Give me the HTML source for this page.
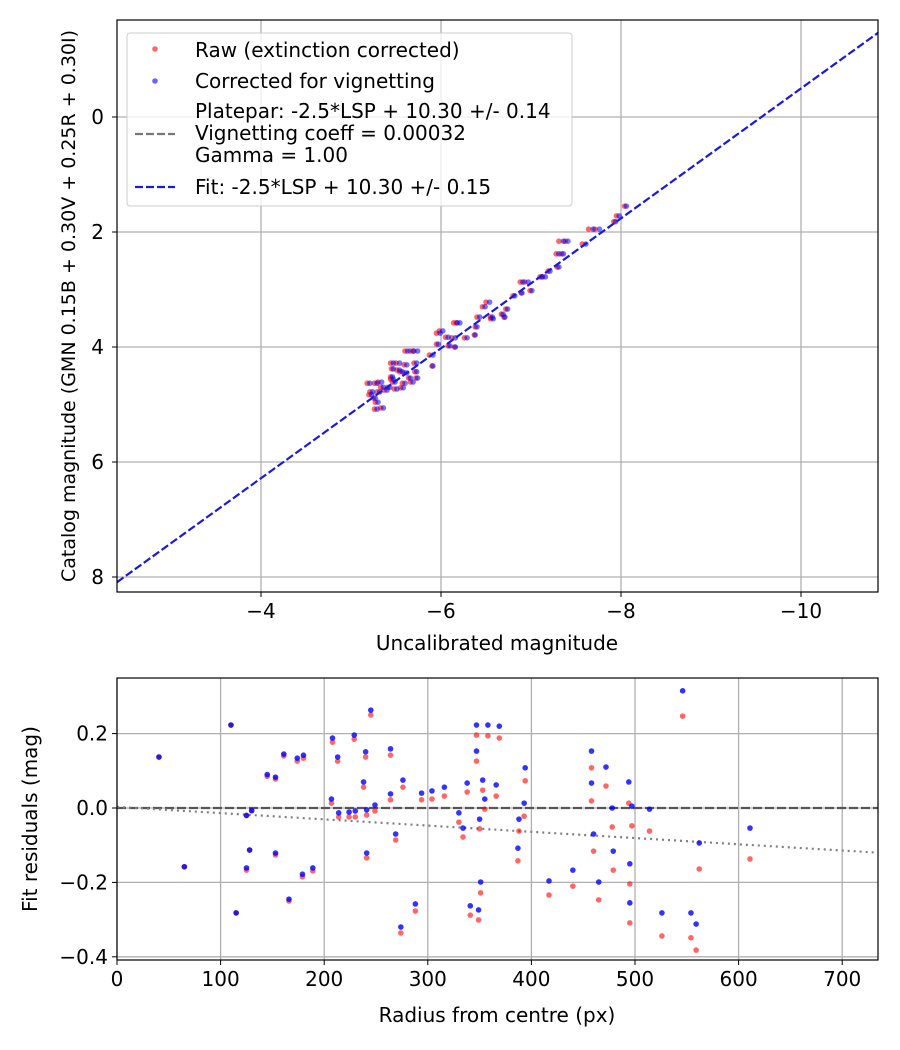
<!DOCTYPE html>
<html><head><meta charset="utf-8"><style>
body{margin:0;background:#fff}
svg{display:block;font-family:"DejaVu Sans","Liberation Sans",sans-serif}
</style></head><body>
<svg id="c" width="900" height="1050" xmlns="http://www.w3.org/2000/svg"></svg>
<script>
// ---- top chart data ----
const blueMag=[-8.06,-7.98,-7.94,-7.76,-7.69,-7.61,-7.41,-7.36,-7.36,-7.31,-7.31,-7.21,-7.16,-7.12,-6.97,-6.91,-7.01,-6.90,-6.82,-6.74,-6.69,-6.71,-6.54,-6.49,-6.43,-6.58,-6.57,-6.40,-6.38,-6.29,-6.18,-6.21,-6.16,-6.16,-6.08,-5.99,-6.02,-5.97,-6.10,-5.91,-5.91,-5.74,-5.69,-5.63,-5.73,-5.73,-5.74,-5.69,-5.62,-5.54,-5.47,-5.47,-5.46,-5.54,-5.62,-5.66,-5.60,-5.49,-5.43,-5.34,-5.29,-5.21,-5.36,-5.32,-5.24,-5.23,-5.30,-5.36,-5.29,-5.27,-5.40,-5.51,-5.58,-5.57,-5.47];
const redMag=[-8.04,-7.95,-7.92,-7.71,-7.64,-7.57,-7.38,-7.31,-7.34,-7.28,-7.29,-7.19,-7.13,-7.10,-6.93,-6.88,-6.99,-6.89,-6.80,-6.72,-6.67,-6.70,-6.50,-6.46,-6.40,-6.55,-6.55,-6.38,-6.37,-6.26,-6.14,-6.17,-6.12,-6.15,-6.05,-5.95,-5.98,-5.95,-6.08,-5.87,-5.90,-5.70,-5.66,-5.60,-5.70,-5.71,-5.72,-5.66,-5.59,-5.50,-5.44,-5.45,-5.44,-5.51,-5.59,-5.64,-5.57,-5.46,-5.41,-5.30,-5.26,-5.18,-5.33,-5.29,-5.21,-5.20,-5.27,-5.33,-5.26,-5.25,-5.37,-5.48,-5.55,-5.54,-5.44];
const catMag=[1.55,1.72,1.82,1.95,1.95,2.21,2.16,2.16,2.38,2.38,2.61,2.68,2.78,2.78,2.87,2.87,3.02,3.06,3.11,3.34,3.43,3.48,3.22,3.30,3.48,3.51,3.48,3.65,3.79,3.84,3.58,3.58,3.84,4.00,3.83,3.76,3.72,3.95,3.98,4.14,4.33,4.07,4.07,4.07,4.28,4.43,4.54,4.61,4.31,4.28,4.28,4.38,4.52,4.40,4.45,4.54,4.63,4.61,4.70,4.61,4.63,4.63,4.70,4.78,4.78,4.83,4.96,5.06,5.08,4.89,4.75,4.73,4.71,4.43,4.56];
const fitX=[-2.4,-10.87];
const fitY=[8.09,-1.48];
const topXTicks=[-4,-6,-8,-10];
const topYTicks=[0,2,4,6,8];
// ---- bottom chart data ----
const radius=[40.5,65,110,115,125,125,128,130,145,153,153,161,166,174,179,180,189,207,208,213,214,224,229,230,238,240,241,241,245,249,264,264,269,274,276,288,294,304,316,330,334,338,341,347,347,349,350,351,353,355,358,366,369,394,393,388,387,417,440,458,458,460,465,472,478,479,494,497,495,495,514,526,546,554,559,562,611];
const resBlue=[0.137,-0.158,0.223,-0.282,-0.02,-0.161,-0.113,-0.007,0.09,0.083,-0.121,0.145,-0.245,0.134,-0.178,0.142,-0.161,0.024,0.188,0.137,-0.013,-0.011,0.196,-0.008,0.07,0.151,-0.005,-0.121,0.263,0.008,0.038,0.159,-0.07,-0.32,0.075,-0.258,0.04,0.046,0.056,-0.013,-0.054,0.067,-0.263,0.223,0.153,-0.274,-0.03,-0.199,0.075,0.024,0.223,0.062,0.22,0.108,0.013,-0.03,-0.108,-0.196,-0.167,0.153,0.067,-0.07,-0.199,0.11,0.0,-0.116,0.07,0.005,-0.15,-0.255,-0.003,-0.282,0.315,-0.282,-0.312,-0.094,-0.054];
const resRed=[0.137,-0.158,0.223,-0.282,-0.02,-0.167,-0.113,-0.007,0.085,0.078,-0.126,0.14,-0.25,0.126,-0.185,0.134,-0.169,0.013,0.177,0.126,-0.024,-0.024,0.185,-0.024,0.056,0.137,-0.019,-0.134,0.25,-0.008,0.022,0.142,-0.086,-0.336,0.056,-0.277,0.022,0.024,0.032,-0.038,-0.078,0.043,-0.288,0.196,0.126,-0.301,-0.056,-0.228,0.048,-0.003,0.194,0.032,0.188,0.073,-0.022,-0.062,-0.142,-0.234,-0.21,0.108,0.019,-0.116,-0.247,0.059,-0.051,-0.167,0.013,-0.048,-0.204,-0.309,-0.062,-0.344,0.247,-0.349,-0.382,-0.164,-0.137];
const trendX=[0,734];
const trendY=[0.003,-0.12];
const botXTicks=[0,100,200,300,400,500,600,700];
const botYTicks=[0.2,0.0,-0.2,-0.4];

const NS='http://www.w3.org/2000/svg';
const svg=document.getElementById('c');
function mk(tag,attrs,parent,text){const e=document.createElementNS(NS,tag);for(const k in attrs)e.setAttribute(k,attrs[k]);if(text!==undefined)e.textContent=text;(parent||svg).appendChild(e);return e;}
const FS=20;
const T={l:117,r:878,t:20,b:592};
const tx=v=>261+(-4-v)*90;
const ty=v=>117+v*57.5;
const B={l:117,r:878,t:678,b:960};
const bx=v=>117+v*1.036;
const by=v=>808-v*372;
function fmt(v){return v<0?'\u2212'+Math.abs(v):String(v);}

mk('defs',{},svg).innerHTML='<clipPath id="ct"><rect x="117" y="20" width="761" height="572"/></clipPath><clipPath id="cb"><rect x="117" y="678" width="761" height="282"/></clipPath>';
// ---- TOP ----
const gTop=mk('g',{});


topXTicks.forEach(v=>{const x=tx(v);
 const g=mk('line',{x1:x,x2:x,y1:T.t,y2:T.b,stroke:'#b0b0b0','stroke-width':1.3},gTop);
 
 mk('line',{x1:x,x2:x,y1:T.b,y2:T.b+5,stroke:'#000'},gTop);
 const t=mk('text',{x:x,y:T.b+26,'text-anchor':'middle','font-size':FS},gTop,fmt(v));
 
});
topYTicks.forEach(v=>{const y=ty(v);
 const g=mk('line',{x1:T.l,x2:T.r,y1:y,y2:y,stroke:'#b0b0b0','stroke-width':1.3},gTop);
 
 mk('line',{x1:T.l-5,x2:T.l,y1:y,y2:y,stroke:'#000'},gTop);
 const t=mk('text',{x:T.l-13,y:y+7,'text-anchor':'end','font-size':FS},gTop,fmt(v));
 
});
const gPts=mk('g',{'clip-path':'url(#ct)'},gTop);
redMag.forEach((m,i)=>{const c=mk('circle',{cx:tx(m),cy:ty(catMag[i]),r:2.8,fill:'#ff0000','fill-opacity':0.6},gPts);
 });
blueMag.forEach((m,i)=>{const c=mk('circle',{cx:tx(m),cy:ty(catMag[i]),r:2.8,fill:'#0000ff','fill-opacity':0.55},gPts);
 });
const fl=mk('line',{x1:tx(fitX[0]),y1:ty(fitY[0]),x2:tx(fitX[1]),y2:ty(fitY[1]),stroke:'#1a1add','stroke-width':2.2,'stroke-dasharray':'8,3'},gPts);

mk('rect',{x:T.l,y:T.t,width:T.r-T.l,height:T.b-T.t,fill:'none',stroke:'#000','stroke-width':1.2},gTop);
const xl=mk('text',{x:497,y:650,'text-anchor':'middle','font-size':FS},gTop,'Uncalibrated magnitude');

const yl=mk('text',{x:0,y:0,'text-anchor':'middle','font-size':19,transform:'translate(75,306) rotate(-90)'},gTop,'Catalog magnitude (GMN 0.15B + 0.30V + 0.25R + 0.30I)');

// legend
const lg=mk('g',{},gTop);

mk('rect',{x:127,y:33,width:445,height:173,rx:3,fill:'#fff','fill-opacity':0.8,stroke:'#ccc'},lg);
mk('circle',{cx:155,cy:49,r:2.8,fill:'#ff0000','fill-opacity':0.6},lg);
mk('text',{x:195,y:57,'font-size':FS},lg,'Raw (extinction corrected)');
mk('circle',{cx:155,cy:81,r:2.8,fill:'#0000ff','fill-opacity':0.6},lg);
mk('text',{x:195,y:88,'font-size':FS},lg,'Corrected for vignetting');
mk('line',{x1:135,x2:175,y1:134,y2:134,stroke:'#777','stroke-width':2.2,'stroke-dasharray':'8,3'},lg);
mk('text',{x:195,y:118,'font-size':FS},lg,'Platepar: -2.5*LSP + 10.30 +/- 0.14');
mk('text',{x:195,y:140,'font-size':FS},lg,'Vignetting coeff = 0.00032');
mk('text',{x:195,y:162,'font-size':FS},lg,'Gamma = 1.00');
mk('line',{x1:135,x2:175,y1:187,y2:187,stroke:'#1a1add','stroke-width':2.2,'stroke-dasharray':'8,3'},lg);
mk('text',{x:195,y:194,'font-size':FS},lg,'Fit: -2.5*LSP + 10.30 +/- 0.15');

// ---- BOTTOM ----
const gB=mk('g',{});

botXTicks.forEach(v=>{const x=bx(v);
 const g=mk('line',{x1:x,x2:x,y1:B.t,y2:B.b,stroke:'#b0b0b0','stroke-width':1.3},gB);
 
 mk('line',{x1:x,x2:x,y1:B.b,y2:B.b+5,stroke:'#000'},gB);
 const t=mk('text',{x:x,y:B.b+26,'text-anchor':'middle','font-size':FS},gB,String(v));
 
});
botYTicks.forEach(v=>{const y=by(v);
 const g=mk('line',{x1:B.l,x2:B.r,y1:y,y2:y,stroke:'#b0b0b0','stroke-width':1.3},gB);
 
 mk('line',{x1:B.l-5,x2:B.l,y1:y,y2:y,stroke:'#000'},gB);
 const s=(v<0?'\u2212':'')+Math.abs(v).toFixed(1);
 const t=mk('text',{x:B.l-9,y:y+7,'text-anchor':'end','font-size':FS},gB,s);
 
});
const gBP=mk('g',{'clip-path':'url(#cb)'},gB);
const zl=mk('line',{x1:B.l,x2:B.r,y1:by(0),y2:by(0),stroke:'#555','stroke-width':2.2,'stroke-dasharray':'9,3'},gBP);

const tl=mk('line',{x1:bx(trendX[0]),x2:bx(trendX[1]),y1:by(trendY[0]),y2:by(trendY[1]),stroke:'#808080','stroke-width':2.2,'stroke-dasharray':'2,4'},gBP);

radius.forEach((r,i)=>{const c=mk('circle',{cx:bx(r),cy:by(resRed[i]),r:2.8,fill:'#ff0000','fill-opacity':0.6},gBP);
 });
radius.forEach((r,i)=>{const c=mk('circle',{cx:bx(r),cy:by(resBlue[i]),r:2.8,fill:'#0000ff','fill-opacity':0.8},gBP);
 });
mk('rect',{x:B.l,y:B.t,width:B.r-B.l,height:B.b-B.t,fill:'none',stroke:'#000','stroke-width':1.2},gB);
const bxl=mk('text',{x:497,y:1022,'text-anchor':'middle','font-size':FS},gB,'Radius from centre (px)');

const byl=mk('text',{x:0,y:0,'text-anchor':'middle','font-size':FS,transform:'translate(37,819) rotate(-90)'},gB,'Fit residuals (mag)');

</script>
</body></html>
